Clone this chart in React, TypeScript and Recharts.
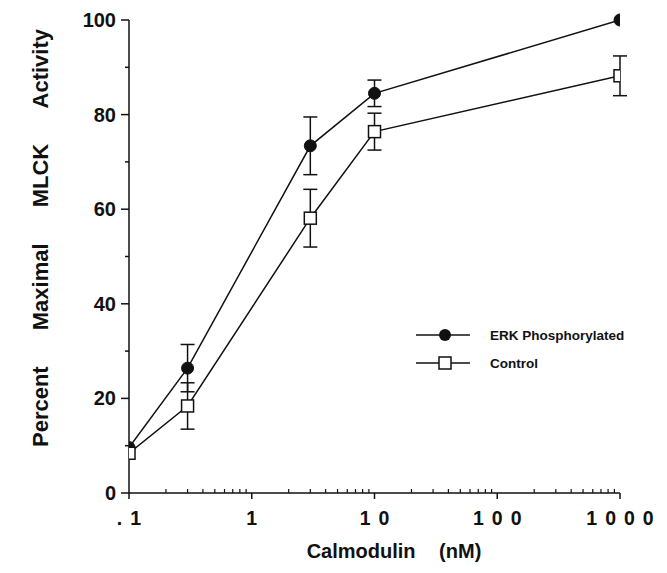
import React from 'react';
import { LineChart, Line, XAxis, YAxis, ErrorBar, Legend } from 'recharts';

// calmodulin concentrations (nM) and % of maximal MLCK activity
const calmodulin = [0.1, 0.3, 3, 10, 1000];
const erkActivity = [9.6, 26.4, 73.4, 84.5, 100];
const erkError = [0, 5, 6.1, 2.8, 0];
const controlActivity = [8.4, 18.4, 58.1, 76.4, 88.2];
const controlError = [0, 4.9, 6.1, 3.9, 4.2];

const seriesOrder = ['erk', 'control'];

const xMajorTicks = [0.1, 1, 10, 100, 1000];
const xMajorLabels = ['.1', '1', '10', '100', '1000'];
const xMinorTicks = [
  0.2, 0.3, 0.4, 0.5, 0.6, 0.7, 0.8, 0.9,
  2, 3, 4, 5, 6, 7, 8, 9,
  20, 30, 40, 50, 60, 70, 80, 90,
  200, 300, 400, 500, 600, 700, 800, 900,
];
const yMajorTicks = [0, 20, 40, 60, 80, 100];
const yMinorTicks = [10, 30, 50, 70, 90];

const data = calmodulin.map((c, i) => ({
  calmodulin: c,
  erk: erkActivity[i],
  erkErr: erkError[i],
  control: controlActivity[i],
  controlErr: controlError[i],
}));

const FONT = '"Liberation Sans", Arial, Helvetica, sans-serif';
const INK = '#111';

const XTick = ({ x, y, payload }: any) => {
  const i = xMajorTicks.indexOf(payload.value);
  if (i < 0) {
    return <line x1={x} x2={x} y1={y} y2={y - 4} stroke={INK} strokeWidth={1.2} />;
  }
  const spacing = 8;
  return (
    <g>
      <line x1={x} x2={x} y1={y} y2={y + 6} stroke={INK} strokeWidth={1.5} />
      <text
        x={x + spacing / 2}
        y={y + 32}
        textAnchor="middle"
        fontFamily={FONT}
        fontWeight="bold"
        fontSize={19.5}
        letterSpacing={spacing}
        fill={INK}
      >
        {xMajorLabels[i]}
      </text>
    </g>
  );
};

const YTick = ({ x, y, payload }: any) => {
  const major = yMajorTicks.includes(payload.value);
  return (
    <g>
      <line x1={x} x2={x - (major ? 8 : 4)} y1={y} y2={y} stroke={INK} strokeWidth={1.5} />
      {major && (
        <text
          x={x - 13}
          y={y + 7}
          textAnchor="end"
          fontFamily={FONT}
          fontWeight="bold"
          fontSize={20}
          fill={INK}
        >
          {payload.value}
        </text>
      )}
    </g>
  );
};

const SquareDot = (props: any) => {
  const { cx, cy, key } = props;
  if (cx == null || cy == null) return <g key={key} />;
  return (
    <rect key={key} x={cx - 6} y={cy - 6} width={12} height={12} fill="#fff" stroke={INK} strokeWidth={1.5} />
  );
};

const renderLegend = ({ payload }: any) => {
  const items = [...(payload || [])].sort(
    (a: any, b: any) => seriesOrder.indexOf(a.dataKey) - seriesOrder.indexOf(b.dataKey)
  );
  return (
    <svg width={250} height={60}>
      {items.map((entry: any, i: number) => {
        const cy = 17 + i * 28;
        return (
          <g key={entry.value}>
            <line x1={11} x2={65} y1={cy} y2={cy} stroke={INK} strokeWidth={1.5} />
            {entry.dataKey === 'erk' ? (
              <circle cx={40} cy={cy} r={6} fill={INK} />
            ) : (
              <rect x={34} y={cy - 6} width={12} height={12} fill="#fff" stroke={INK} strokeWidth={1.5} />
            )}
            <text x={85} y={cy + 5} fontFamily={FONT} fontWeight="bold" fontSize={13.5} fill={INK}>
              {entry.value}
            </text>
          </g>
        );
      })}
    </svg>
  );
};

const YTitle = () => (
  <text
    x={40}
    y={238}
    transform="rotate(-90, 40, 238)"
    textAnchor="middle"
    dominantBaseline="central"
    fontFamily={FONT}
    fontWeight="bold"
    fontSize={22}
    wordSpacing={30}
    fill={INK}
  >
    Percent Maximal MLCK Activity
  </text>
);

const XTitle = () => (
  <text
    x={394}
    y={558}
    textAnchor="middle"
    fontFamily={FONT}
    fontWeight="bold"
    fontSize={20}
    wordSpacing={18}
    fill={INK}
  >
    Calmodulin (nM)
  </text>
);

const App = () => (
  <div style={{ position: 'absolute', left: 0, top: 0, background: '#fff' }}>
    <LineChart width={667} height={573} data={data} margin={{ top: 20, right: 47, bottom: 0, left: 0 }}>
      <XAxis
        dataKey="calmodulin"
        type="number"
        scale="log"
        domain={[0.1, 1000]}
        allowDataOverflow
        ticks={[...xMajorTicks, ...xMinorTicks]}
        interval={0}
        tickSize={0}
        tickMargin={0}
        tickLine={false}
        tick={<XTick />}
        axisLine={{ stroke: INK, strokeWidth: 1.5 }}
        height={80}
        label={{ content: <XTitle /> }}
      />
      <YAxis
        type="number"
        domain={[0, 100]}
        ticks={[...yMajorTicks, ...yMinorTicks].sort((a, b) => a - b)}
        interval={0}
        tickSize={0}
        tickMargin={0}
        tickLine={false}
        tick={<YTick />}
        axisLine={{ stroke: INK, strokeWidth: 1.5 }}
        width={129}
        label={{ content: <YTitle /> }}
      />
      <Legend
        layout="vertical"
        align="center"
        verticalAlign="middle"
        wrapperStyle={{ left: 405, top: 318, width: 250 }}
        content={renderLegend}
      />
      <Line
        name="ERK Phosphorylated"
        dataKey="erk"
        type="linear"
        stroke={INK}
        strokeWidth={1.5}
        dot={{ r: 6, fill: INK, stroke: INK, strokeWidth: 1 }}
        activeDot={false}
        isAnimationActive={false}
      >
        <ErrorBar dataKey="erkErr" width={7} stroke={INK} strokeWidth={1.5} direction="y" />
      </Line>
      <Line
        name="Control"
        dataKey="control"
        type="linear"
        stroke={INK}
        strokeWidth={1.5}
        dot={<SquareDot />}
        activeDot={false}
        isAnimationActive={false}
      >
        <ErrorBar dataKey="controlErr" width={7} stroke={INK} strokeWidth={1.5} direction="y" />
      </Line>
    </LineChart>
  </div>
);

export default App;
